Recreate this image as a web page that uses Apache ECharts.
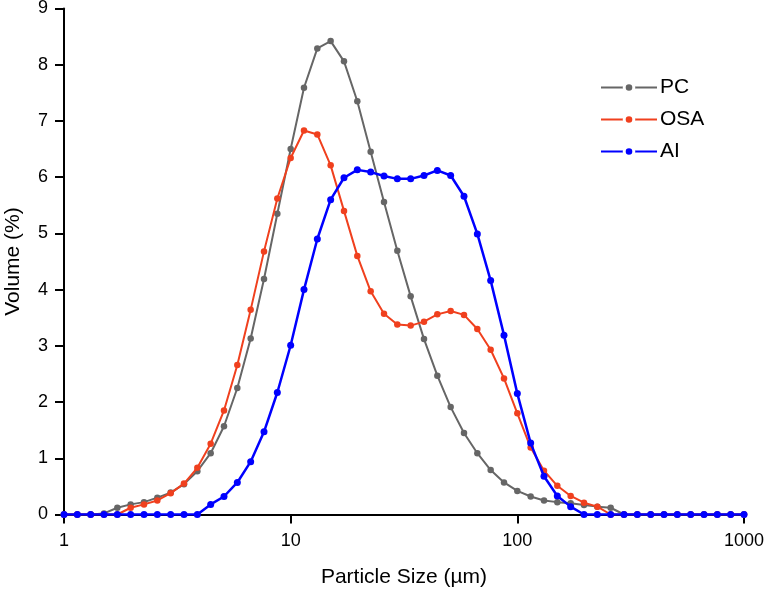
<!DOCTYPE html>
<html>
<head>
<meta charset="utf-8">
<script src="https://cdn.jsdelivr.net/npm/echarts@6/dist/echarts.min.js"></script>
<style>
  html, body { margin: 0; padding: 0; background: #fff; }
  #chart { width: 766px; height: 592px; }
</style>
</head>
<body>
<div id="chart"></div>
<script>
// tamaños de partícula (µm), escala log
var sizes = [1, 1.145, 1.311, 1.501, 1.719, 1.968, 2.254, 2.581, 2.955, 3.384,
  3.875, 4.437, 5.080, 5.817, 6.661, 7.627, 8.733, 10, 11.45, 13.11,
  15.01, 17.19, 19.68, 22.54, 25.81, 29.55, 33.84, 38.75, 44.37, 50.80,
  58.17, 66.61, 76.27, 87.33, 100, 114.5, 131.1, 150.1, 171.9, 196.8,
  225.4, 258.1, 295.5, 338.4, 387.5, 443.7, 508.0, 581.7, 666.1, 762.7,
  873.3, 1000];

var pc = [0, 0, 0, 0.02, 0.12, 0.18, 0.22, 0.30, 0.39, 0.54,
  0.77, 1.09, 1.57, 2.25, 3.13, 4.19, 5.35, 6.50, 7.59, 8.29,
  8.42, 8.06, 7.35, 6.45, 5.56, 4.69, 3.88, 3.12, 2.47, 1.91,
  1.45, 1.09, 0.79, 0.57, 0.42, 0.32, 0.25, 0.22, 0.20, 0.17,
  0.14, 0.12, 0, 0, 0, 0, 0, 0, 0, 0,
  0, 0];

var osa = [0, 0, 0, 0, 0, 0.12, 0.18, 0.25, 0.38, 0.55,
  0.83, 1.26, 1.85, 2.66, 3.64, 4.68, 5.62, 6.34, 6.83, 6.76,
  6.21, 5.40, 4.60, 3.97, 3.57, 3.38, 3.36, 3.43, 3.56, 3.62,
  3.55, 3.30, 2.93, 2.42, 1.80, 1.19, 0.78, 0.51, 0.33, 0.21,
  0.14, 0, 0, 0, 0, 0, 0, 0, 0, 0,
  0, 0];

var ai = [0, 0, 0, 0, 0, 0, 0, 0, 0, 0,
  0, 0.18, 0.32, 0.57, 0.94, 1.47, 2.17, 3.01, 4.00, 4.90,
  5.60, 5.99, 6.13, 6.09, 6.02, 5.97, 5.97, 6.03, 6.12, 6.03,
  5.66, 4.99, 4.16, 3.19, 2.15, 1.27, 0.68, 0.33, 0.14, 0,
  0, 0, 0, 0, 0, 0, 0, 0, 0, 0,
  0, 0];

var names = ['PC', 'OSA', 'AI'];
var colors = ['#666666', '#f0401e', '#0000ff'];

function pairs(vals) {
  return sizes.map(function (s, i) { return [s, vals[i]]; });
}

var font = '"Liberation Sans", Arial, sans-serif';
var myChart = echarts.init(document.getElementById('chart'));

option = {
  animation: false,
  backgroundColor: '#fff',
  color: colors,
  grid: { left: 64, right: 22, top: 8.5, bottom: 77.5, containLabel: false, outerBoundsMode: 'none' },
  legend: {
    orient: 'vertical',
    left: 595,
    top: 72,
    itemWidth: 56,
    itemHeight: 12,
    itemGap: 11,
    data: names,
    itemStyle: { borderColor: '#fff', borderWidth: 3 },
    textStyle: { fontFamily: font, fontSize: 21, color: '#000', padding: [0, 0, 0, -2] }
  },
  xAxis: {
    type: 'log',
    logBase: 10,
    min: 1,
    max: 1000,
    name: 'Particle Size (\u00b5m)',
    nameLocation: 'middle',
    nameGap: 52,
    nameMoveOverlap: false,
    nameTextStyle: { fontFamily: font, fontSize: 21, color: '#000' },
    axisLine: { show: true, lineStyle: { color: '#000', width: 2 } },
    axisTick: { show: true, length: 9, lineStyle: { color: '#000', width: 2 } },
    minorTick: { show: false },
    axisLabel: {
      fontFamily: font, fontSize: 18, color: '#000', margin: 18,
      formatter: function (v) { return String(Math.round(v)); }
    },
    splitLine: { show: false }
  },
  yAxis: {
    type: 'value',
    min: 0,
    max: 9,
    interval: 1,
    name: 'Volume (%)',
    nameLocation: 'middle',
    nameGap: 40,
    nameMoveOverlap: false,
    nameTextStyle: { fontFamily: font, fontSize: 21, color: '#000' },
    axisLine: { show: true, lineStyle: { color: '#000', width: 2 } },
    axisTick: { show: true, length: 9, lineStyle: { color: '#000', width: 2 } },
    axisLabel: { fontFamily: font, fontSize: 18, color: '#000', margin: 16 },
    splitLine: { show: false }
  },
  series: [pc, osa, ai].map(function (vals, i) {
    return {
      name: names[i],
      type: 'line',
      data: pairs(vals),
      symbol: 'circle',
      symbolSize: i === 2 ? 7 : 6.5,
      showSymbol: true,
      lineStyle: { width: i === 2 ? 2.5 : 2, color: colors[i] },
      itemStyle: { color: colors[i] },
      z: 2 + i
    };
  })
};

myChart.setOption(option);
</script>
</body>
</html>
